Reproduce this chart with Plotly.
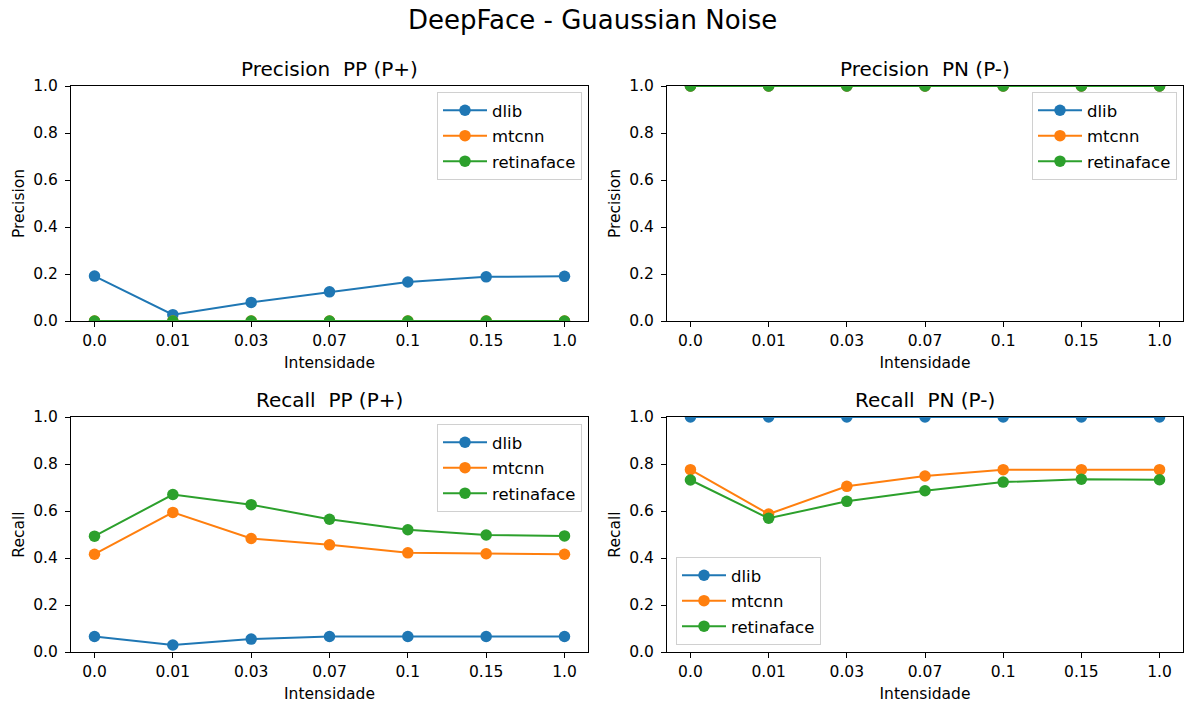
import plotly.graph_objects as go

intensities = ["0.0", "0.01", "0.03", "0.07", "0.1", "0.15", "1.0"]
detectors = ["dlib", "mtcnn", "retinaface"]
colors = {"dlib": "#1f77b4", "mtcnn": "#ff7f0e", "retinaface": "#2ca02c"}

precision_pp = {
    "dlib": [0.191, 0.027, 0.079, 0.124, 0.166, 0.188, 0.190],
    "mtcnn": [0.0, 0.0, 0.0, 0.0, 0.0, 0.0, 0.0],
    "retinaface": [0.0, 0.0, 0.0, 0.0, 0.0, 0.0, 0.0],
}
precision_pn = {
    "dlib": [1.0, 1.0, 1.0, 1.0, 1.0, 1.0, 1.0],
    "mtcnn": [1.0, 1.0, 1.0, 1.0, 1.0, 1.0, 1.0],
    "retinaface": [1.0, 1.0, 1.0, 1.0, 1.0, 1.0, 1.0],
}
recall_pp = {
    "dlib": [0.066, 0.030, 0.055, 0.066, 0.066, 0.066, 0.066],
    "mtcnn": [0.416, 0.594, 0.483, 0.456, 0.422, 0.418, 0.416],
    "retinaface": [0.493, 0.670, 0.627, 0.565, 0.520, 0.498, 0.494],
}
recall_pn = {
    "dlib": [1.0, 1.0, 1.0, 1.0, 1.0, 1.0, 1.0],
    "mtcnn": [0.776, 0.587, 0.705, 0.749, 0.776, 0.776, 0.776],
    "retinaface": [0.732, 0.569, 0.641, 0.686, 0.723, 0.735, 0.733],
}

W, H = 1184, 706
FONT = "DejaVu Sans"

def px_x(p):
    return p / W

def px_y(p):
    return 1 - p / H

xdom_left = [px_x(71), px_x(588)]
xdom_right = [px_x(667), px_x(1183)]
ydom_top = [px_y(321), px_y(86)]
ydom_bot = [px_y(652), px_y(417)]

panels = [
    (precision_pp, "Precision\u00a0 PP (P+)", "Precision", "x", "y", xdom_left, ydom_top, "legend"),
    (precision_pn, "Precision\u00a0 PN (P-)", "Precision", "x2", "y2", xdom_right, ydom_top, "legend2"),
    (recall_pp, "Recall\u00a0 PP (P+)", "Recall", "x3", "y3", xdom_left, ydom_bot, "legend3"),
    (recall_pn, "Recall\u00a0 PN (P-)", "Recall", "x4", "y4", xdom_right, ydom_bot, "legend4"),
]

fig = go.Figure()
annotations = []
layout = {}

for data, title, ylabel, xa, ya, xdom, ydom, leg in panels:
    for det in detectors:
        fig.add_trace(go.Scatter(
            x=intensities, y=data[det], name=det, mode="lines+markers",
            line=dict(color=colors[det], width=2),
            marker=dict(color=colors[det], size=11.5),
            xaxis=xa, yaxis=ya, legend=leg, showlegend=True,
            legendgroup=leg + det,
        ))
    xkey = "xaxis" + xa[1:]
    ykey = "yaxis" + ya[1:]
    layout[xkey] = dict(
        domain=xdom, anchor=ya, type="category", range=[-0.3, 6.3], automargin=False,
        showline=True, mirror=True, linecolor="black", linewidth=1,
        ticks="outside", ticklen=5, tickcolor="black", showgrid=False, zeroline=False,
        tickfont=dict(family=FONT, size=15.5, color="black"),
        title=dict(text="Intensidade", font=dict(family=FONT, size=15.5, color="black"), standoff=8),
    )
    layout[ykey] = dict(
        domain=ydom, anchor=xa, range=[0, 1], automargin=False,
        tickvals=[0, 0.2, 0.4, 0.6, 0.8, 1.0], tickformat=".1f",
        showline=True, mirror=True, linecolor="black", linewidth=1,
        ticks="outside", ticklen=5, tickcolor="black", showgrid=False, zeroline=False,
        ticklabelstandoff=4,
        tickfont=dict(family=FONT, size=15.5, color="black"),
        title=dict(text=ylabel, font=dict(family=FONT, size=15.5, color="black"), standoff=4),
    )
    annotations.append(dict(
        text=title, xref="paper", yref="paper",
        x=(xdom[0] + xdom[1]) / 2, y=ydom[1], xanchor="center", yanchor="bottom",
        yshift=3, showarrow=False, font=dict(family=FONT, size=20, color="black"),
    ))

annotations.append(dict(
    text="DeepFace - Guaussian Noise", xref="paper", yref="paper",
    x=0.5, y=px_y(20), xanchor="center", yanchor="middle",
    showarrow=False, font=dict(family=FONT, size=26, color="black"),
))

legend_style = dict(
    bgcolor="rgba(255,255,255,0.85)", bordercolor="#d0d0d0", borderwidth=1,
    font=dict(family=FONT, size=16.5, color="black"), itemwidth=44, tracegroupgap=1,
)
layout["legend"] = dict(x=px_x(582), y=px_y(92), xanchor="right", yanchor="top", **legend_style)
layout["legend2"] = dict(x=px_x(1177), y=px_y(92), xanchor="right", yanchor="top", **legend_style)
layout["legend3"] = dict(x=px_x(582), y=px_y(424), xanchor="right", yanchor="top", **legend_style)
layout["legend4"] = dict(x=px_x(676), y=px_y(645), xanchor="left", yanchor="bottom", **legend_style)

fig.update_layout(
    width=W, height=H,
    margin=dict(l=0, r=0, t=0, b=0),
    paper_bgcolor="white", plot_bgcolor="white",
    annotations=annotations,
    font=dict(family=FONT),
    **layout,
)

fig.write_html("out.html")
